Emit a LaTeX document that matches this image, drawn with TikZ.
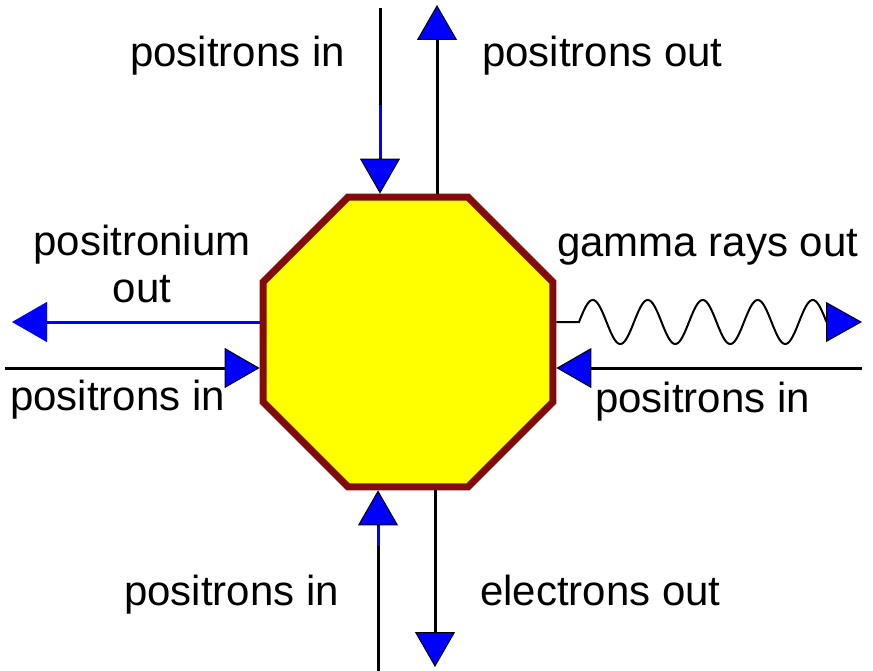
\documentclass[tikz,border=0pt]{standalone}
\usepackage{fontspec}
\setmainfont{Liberation Sans}
\usetikzlibrary{shapes.geometric,arrows.meta,calc}
\definecolor{octred}{RGB}{130,12,12}
\definecolor{arrblue}{RGB}{0,0,255}
\definecolor{octyellow}{RGB}{255,255,0}
\begin{document}
\begin{tikzpicture}[x=1pt,y=-1pt,
  lbl/.style={font=\fontsize{42}{47}\selectfont, inner sep=0pt, anchor=base west},
  flow/.style={line width=3pt, black,
    -{Triangle[length=35pt,width=40pt,fill=arrblue,line width=1pt]}},
  blueflow/.style={flow, draw=arrblue},
  wave/.style={line width=2pt, black,
    -{Triangle[length=36pt,width=40pt,fill=arrblue,line width=1pt]}},
  core/.style={regular polygon, regular polygon sides=8, minimum size=313.6pt,
    inner sep=0pt, draw=octred, fill=octyellow, line width=7pt}]
\useasboundingbox (0,0) rectangle (873,671);

% central region
\node[core] (oct) at (408,342) {};

% free ends
\coordinate (tin) at (380,8);
\coordinate (tout) at (437,5);
\coordinate (lout) at (12,322);
\coordinate (lin) at (5,368);
\coordinate (rin) at (862,368);
\coordinate (gout) at (862,322);
\coordinate (bin) at (378,671);
\coordinate (bout) at (435,667);

% connectors
\draw[flow] (tin) -- (oct.north -| tin);
\draw[line width=3pt, arrblue] ($(tin)+(0,97)$) -- ($(oct.north -| tin)+(0,-36)$);
\draw[flow] (oct.north -| tout) -- (tout);
\draw[blueflow] (oct.west |- lout) -- (lout);
\draw[flow] (lin) -- (oct.west |- lin);
\draw[flow] (rin) -- (oct.east |- rin);
\draw[flow] (bin) -- (oct.south -| bin);
\draw[line width=3pt, arrblue] ($(oct.south -| bin)+(0,36)$) -- ($(oct.south -| bin)+(0,56)$);
\draw[flow] (oct.south -| bout) -- (bout);
\draw[wave] (oct.east |- gout) -- (579,322)
  -- plot[domain=0:247.5, samples=200] ({579+\x},{322-22*sin(\x/55*360)})
  -- (gout);

% labels
\node[lbl] (t1) at (130,67) {positrons in};
\node[lbl] (t2) at (482,67) {positrons out};
\node[lbl, anchor=base, align=center] (t3) at (142,302) {positronium\\out};
\node[lbl] (t4) at (557,257) {gamma rays out};
\node[lbl] (t5) at (10,410) {positrons in};
\node[lbl] (t6) at (595,412) {positrons in};
\node[lbl] (t7) at (124,605) {positrons in};
\node[lbl] (t8) at (480,605) {electrons out};
\end{tikzpicture}
\end{document}
